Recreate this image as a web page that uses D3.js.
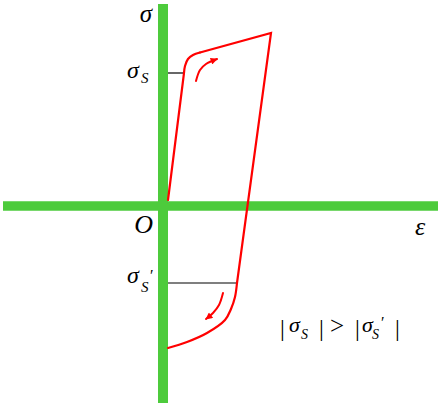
<!DOCTYPE html>
<html>
<head>
<meta charset="utf-8">
<script src="https://cdn.jsdelivr.net/npm/d3@7"></script>
<style>
  html, body { margin: 0; padding: 0; background: #fff; }
  svg { display: block; }
  text { font-family: "Liberation Serif", "DejaVu Serif", serif; fill: #000; }
</style>
</head>
<body>
<svg id="chart" width="445" height="406"></svg>
<script>
// ---- data (strain ε, stress σ in arbitrary units) ----
const axisEpsExtent   = [-16.0, 27.5];
const axisSigmaExtent = [-19.7, 20.2];

const sigmaS      = 13.3;   // yield stress on loading
const sigmaSPrime = -7.7;   // yield stress on reverse loading

const elasticLoad   = [[0.5, 0.6], [2.1, 13.3]];
const upperBend     = [[2.1, 13.3], [2.2, 14.0], [2.5, 14.7], [3.0, 15.1], [3.7, 15.35]];
const hardenUnload  = [[3.7, 15.35], [10.8, 17.3], [7.4, -7.7]];
const lowerBend     = [[7.4, -7.7], [7.2, -9.1], [6.8, -10.3], [6.2, -11.4], [4.4, -12.7], [2.4, -13.6], [0.5, -14.2]];

const arrowUp   = [[3.3, 12.5], [3.7, 13.6], [4.3, 14.2], [5.4, 14.7]];
const arrowDown = [[6.0, -8.7], [5.6, -9.9], [5.0, -10.7], [4.3, -11.3]];

const yieldRefEps = [0.5, 2.1, 7.4];   // start of guide lines, loading / reverse yield strains

// ---- scales ----
const x = d3.scaleLinear().domain([0, 10]).range([163, 263]);
const y = d3.scaleLinear().domain([0, 10]).range([206, 106]);

const svg = d3.select("#chart");
const green = "#4dcb3c";
const red = "#ff0000";

// arrow marker
svg.append("defs").append("marker")
  .attr("id", "ah")
  .attr("viewBox", "0 0 10 10")
  .attr("refX", 9).attr("refY", 5)
  .attr("markerUnits", "userSpaceOnUse")
  .attr("markerWidth", 8).attr("markerHeight", 7)
  .attr("orient", "auto")
  .append("path").attr("d", "M0,0 L10,5 L0,10 z").attr("fill", red);

// axes (thick green bars)
svg.append("line")
  .attr("x1", x(axisEpsExtent[0])).attr("x2", x(axisEpsExtent[1]))
  .attr("y1", y(0)).attr("y2", y(0))
  .attr("stroke", green).attr("stroke-width", 9.5);
svg.append("line")
  .attr("x1", x(0)).attr("x2", x(0))
  .attr("y1", y(axisSigmaExtent[1])).attr("y2", y(axisSigmaExtent[0]))
  .attr("stroke", green).attr("stroke-width", 10);

// guide lines at yield stresses
svg.append("line")
  .attr("x1", x(yieldRefEps[0])).attr("x2", x(yieldRefEps[1]))
  .attr("y1", y(sigmaS)).attr("y2", y(sigmaS))
  .attr("stroke", "#000").attr("stroke-width", 1.2);
svg.append("line")
  .attr("x1", x(yieldRefEps[0])).attr("x2", x(yieldRefEps[2]))
  .attr("y1", y(sigmaSPrime)).attr("y2", y(sigmaSPrime))
  .attr("stroke", "#000").attr("stroke-width", 1.2);

// curve
const lin = d3.line().x(d => x(d[0])).y(d => y(d[1]));
const smooth = d3.line().x(d => x(d[0])).y(d => y(d[1])).curve(d3.curveCatmullRom.alpha(0.5));

const curveG = svg.append("g").attr("fill", "none").attr("stroke", red)
  .attr("stroke-width", 2.2).attr("stroke-linecap", "round");
curveG.append("path").attr("d", lin(elasticLoad));
curveG.append("path").attr("d", smooth(upperBend));
curveG.append("path").attr("d", lin(hardenUnload)).attr("stroke-linejoin", "miter");
curveG.append("path").attr("d", smooth(lowerBend));

// direction arrows
curveG.append("path").attr("d", smooth(arrowUp)).attr("stroke-width", 2).attr("marker-end", "url(#ah)");
curveG.append("path").attr("d", smooth(arrowDown)).attr("stroke-width", 2).attr("marker-end", "url(#ah)");

// ---- labels ----
// σ axis label
svg.append("text").attr("x", x(-1.1)).attr("y", y(18.45))
  .attr("text-anchor", "end").attr("font-size", 25).attr("font-style", "italic").text("σ");
// O
svg.append("text").attr("x", x(-1.0)).attr("y", y(-2.7))
  .attr("text-anchor", "end").attr("font-size", 26).attr("font-style", "italic").text("O");
// ε
svg.append("text").attr("x", x(25.2)).attr("y", y(-2.9))
  .attr("text-anchor", "start").attr("font-size", 26).attr("font-style", "italic").text("ε");

// helper: one text element made of absolutely placed tspans
function composite(parent, x0, y0, parts) {
  const t = parent.append("text");
  parts.forEach(p => {
    t.append("tspan")
      .attr("x", x0 + p.dx).attr("y", y0 + p.dy)
      .attr("font-size", p.size)
      .attr("font-style", p.italic ? "italic" : "normal")
      .text(p.s);
  });
  return t;
}

// σS
composite(svg, x(-3.6), y(sigmaS - 0.5), [
  { s: "σ", dx: 0,  dy: 0, size: 24, italic: true },
  { s: "S", dx: 14, dy: 5, size: 15, italic: true }
]);
// σ'S
composite(svg, x(-3.6), y(sigmaSPrime), [
  { s: "σ", dx: 0,  dy: 0,  size: 24, italic: true },
  { s: "S", dx: 14, dy: 9,  size: 15, italic: true },
  { s: "′", dx: 22, dy: -2, size: 16, italic: true }
]);

// |σS| > |σ'S|
composite(svg, x(11.8), y(-12.6), [
  { s: "|", dx: -1, dy: 4,  size: 24 },
  { s: "σ", dx: 8,  dy: 0,  size: 22, italic: true },
  { s: "S", dx: 20, dy: 7,  size: 14, italic: true },
  { s: "|", dx: 38, dy: 4,  size: 24 },
  { s: ">", dx: 49, dy: 2,  size: 25 },
  { s: "|", dx: 74, dy: 4,  size: 24 },
  { s: "σ", dx: 81, dy: 0,  size: 22, italic: true },
  { s: "S", dx: 91, dy: 7,  size: 14, italic: true },
  { s: "′", dx: 99, dy: -4, size: 16, italic: true },
  { s: "|", dx: 114, dy: 4, size: 24 }
]);
</script>
</body>
</html>
